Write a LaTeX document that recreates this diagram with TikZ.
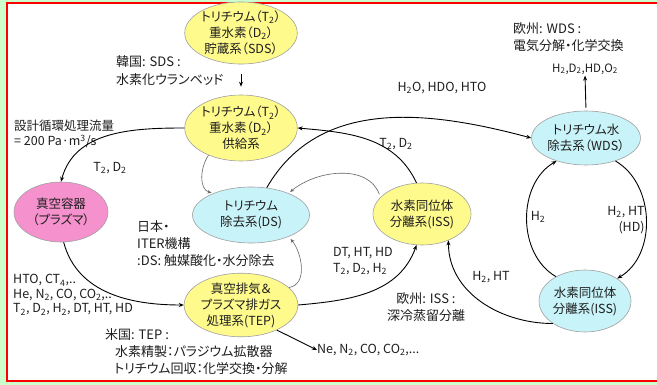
\documentclass[tikz,border=0pt]{standalone}
\usepackage{fontspec}
\setmainfont{Noto Sans CJK JP}[RawFeature=+palt]
\usetikzlibrary{shapes.geometric,arrows.meta}
\newcommand\ssb[1]{\textsubscript{#1}}
\definecolor{bgg}{RGB}{204,255,204}
\definecolor{yel}{RGB}{255,250,140}
\definecolor{cy}{RGB}{200,243,248}
\definecolor{pk}{RGB}{245,145,205}
\definecolor{txt}{RGB}{30,30,30}
\definecolor{ebd}{RGB}{160,160,160}
\definecolor{gline}{RGB}{100,100,100}
\begin{document}
\begin{tikzpicture}[x=1pt,y=1pt,
 every node/.style={text=txt},
 sys/.style={ellipse, draw=ebd, line width=0.6pt, inner sep=0pt, align=center, font=\fontsize{12.5}{16}\selectfont},
 ysys/.style={sys, fill=yel},
 csys/.style={sys, fill=cy},
 psys/.style={sys, fill=pk},
 lbl/.style={font=\fontsize{12.5}{16}\selectfont, inner sep=0pt},
 note/.style={font=\fontsize{13}{17}\selectfont, inner sep=0pt, align=left},
 arr/.style={-{Stealth[length=5pt,width=4pt]}, line width=0.9pt, black},
 garr/.style={-{Stealth[length=4pt,width=3.5pt]}, line width=0.6pt, gline},
]
\path[use as bounding box] (0,0) rectangle (657,-385);
\fill[bgg] (0,0) rectangle (657,-385);
\draw[red, line width=1.2pt, fill=white] (7,-3) rectangle (670,-381);

% systems
\node[ysys, minimum width=97, minimum height=60] (sds) at (241,-33) {トリチウム（T\ssb{2}）\\重水素（D\ssb{2}）\\貯蔵系（SDS）};
\node[ysys, minimum width=98, minimum height=66] (supply) at (241,-128) {トリチウム（T\ssb{2}）\\重水素（D\ssb{2}）\\供給系};
\node[psys, minimum width=94, minimum height=60] (vv) at (61,-212) {真空容器\\（プラズマ）};
\node[csys, minimum width=117, minimum height=56] (ds) at (251,-215) {トリチウム\\除去系(DS)};
\node[ysys, minimum width=98, minimum height=62] (iss) at (422,-214) {水素同位体\\分離系(ISS)};
\node[ysys, minimum width=97, minimum height=56] (tep) at (241,-305) {真空排気＆\\プラズマ排ガス\\処理系(TEP)};
\node[csys, minimum width=96, minimum height=54] (wds) at (586,-138) {トリチウム水\\除去系（WDS）};
\node[csys, minimum width=92, minimum height=62] (iss2) at (585,-301) {水素同位体\\分離系(ISS)};

% notes
\node[note, anchor=west, font=\fontsize{13}{18}\selectfont] (nk) at (116,-71) {韓国: SDS :\\水素化ウランベッド};
\node[note, anchor=west, font=\fontsize{12.5}{15}\selectfont] (nflow) at (14,-134) {設計循環処理流量\\= 200 Pa·m\textsuperscript{3}/s};
\node[note, anchor=west] (nj) at (137,-244) {日本・\\ITER機構\\:DS: 触媒酸化・水分除去};
\node[note, anchor=west] (nus) at (105,-352) {米国: TEP :\\\hspace{10pt}水素精製：パラジウム拡散器\\\hspace{9pt}トリチウム回収：化学交換・分解};
\node[note, anchor=center, align=center] (neiss) at (426,-307) {欧州: ISS :\\深冷蒸留分離};
\node[note, anchor=west] (newds) at (513,-37) {欧州: WDS :\\電気分解・化学交換};

% labels
\node[lbl] (lt2a) at (110,-168) {T\ssb{2}, D\ssb{2}};
\node[lbl, anchor=west, align=left, font=\fontsize{12.5}{14.5}\selectfont] (lexh) at (13,-295) {HTO, CT\ssb{4},..\\He, N\ssb{2}, CO, CO\ssb{2},..\\T\ssb{2}, D\ssb{2}, H\ssb{2}, DT, HT, HD};
\node[lbl, anchor=west, align=left] (ldt) at (333,-261) {DT, HT, HD\\T\ssb{2}, D\ssb{2}, H\ssb{2}};
\node[lbl, anchor=west] (lne) at (317,-350) {Ne, N\ssb{2}, CO, CO\ssb{2},...};
\node[lbl] (lt2b) at (396,-144) {T\ssb{2}, D\ssb{2}};
\node[lbl] (lwat) at (442,-88) {H\ssb{2}O, HDO, HTO};
\node[lbl, font=\fontsize{11.5}{14}\selectfont] (lout) at (585,-69) {H\ssb{2},D\ssb{2},HD,O\ssb{2}};
\node[lbl] (lh2) at (538,-217) {H\ssb{2}};
\node[lbl, align=right] (lh2ht) at (626,-220) {H\ssb{2}, HT\\(HD)};
\node[lbl] (lh2ht2) at (491,-277) {H\ssb{2}, HT};

% main connectors
\draw[arr, shorten <=10pt, shorten >=8pt] (sds) -- (supply);
\draw[arr] (supply.west) to[out=180,in=75] (vv.north);
\draw[arr] (vv.-85) to[out=-75,in=180] (tep.west);
\draw[arr] (tep.east) to[out=5,in=-110] (iss.-100);
\draw[arr] (tep.-35) -- (lne.west);
\draw[arr] (iss.100) to[out=115,in=-5] (supply.east);
\draw[arr] (ds.60) to[out=60,in=165] (wds.west);
\draw[arr, shorten <=3pt, shorten >=1pt] (wds.north) -- (lout.south);
\draw[arr] (iss2.140) to[out=150,in=210] (wds.218);
\draw[arr] (wds.-38) to[out=-30,in=30] (iss2.35);
\draw[arr] (iss2.215) to[out=180,in=-90] (iss.-45);

% thin gray loops
\draw[garr, shorten >=2pt] (supply.220) to[out=235,in=165] (ds.150);
\draw[garr, shorten <=3pt, shorten >=2pt] (iss.158) to[out=110,in=40] (ds.30);
\draw[garr, shorten >=3pt] (tep.20) to[out=10,in=-50] (ds.-30);
\end{tikzpicture}
\end{document}
